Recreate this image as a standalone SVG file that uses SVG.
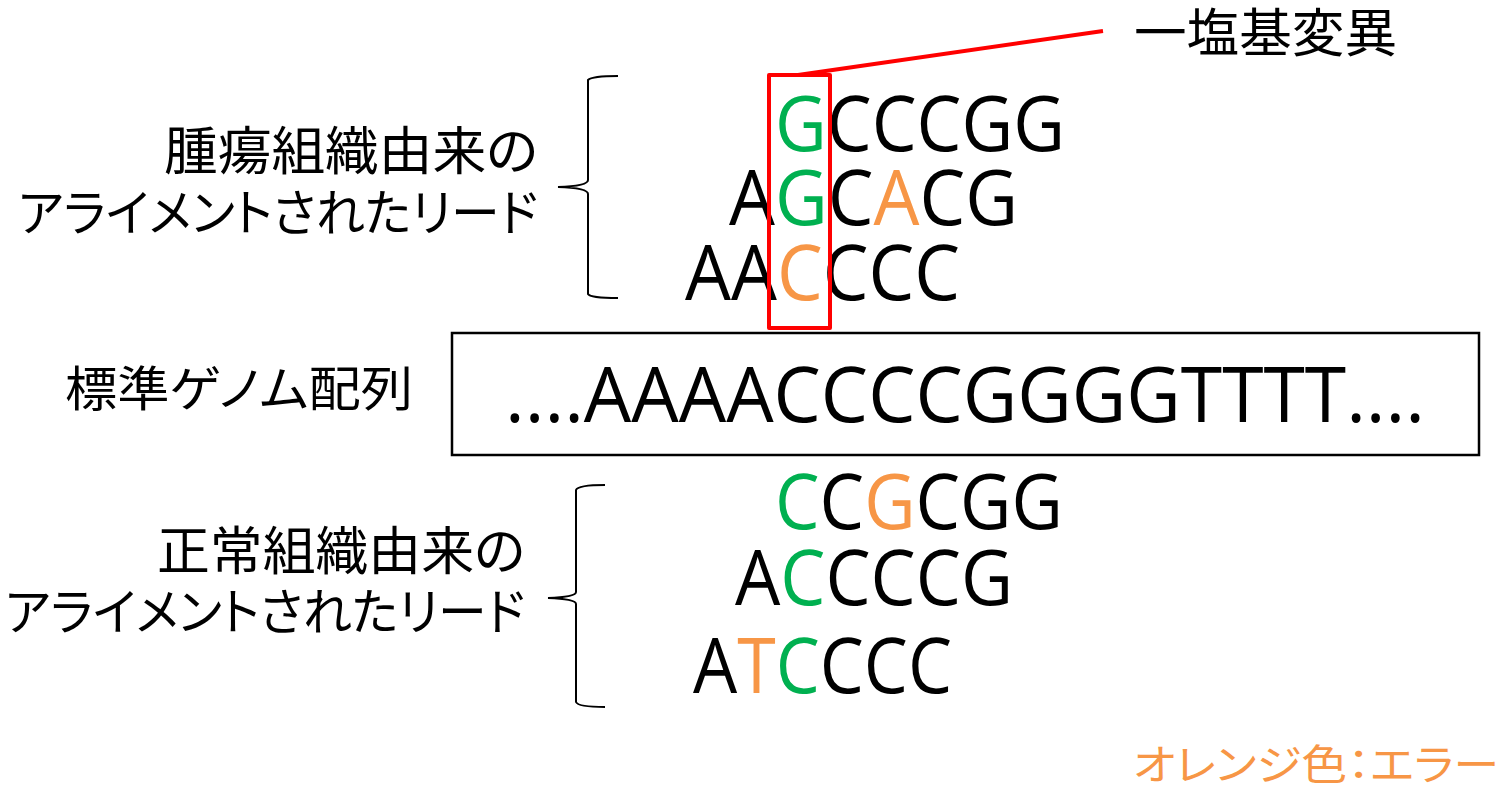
<svg xmlns="http://www.w3.org/2000/svg" width="1507" height="789" viewBox="0 0 1507 789">
  <style>
    .jp { font-family: "Noto Sans CJK JP", "Noto Sans", sans-serif; fill: #000; font-feature-settings: "palt"; }
    .seq { font-family: "Open Sans", "Noto Sans", sans-serif; font-size: 76px; fill: #000; }
    .g { fill: #00B050; }
    .o { fill: #F79646; }
    .brace { fill: none; stroke: #000; stroke-width: 2; }
    .callout { fill: none; stroke: #FF0000; stroke-width: 4; stroke-linejoin: round; }
  </style>

  <rect width="1507" height="789" fill="#fff"/>

  <!-- tumor-derived reads -->
  <g id="tumor-label">
    <text class="jp" x="164" y="170" font-size="52" textLength="374" lengthAdjust="spacingAndGlyphs">腫瘍組織由来の</text>
    <text class="jp" x="18" y="231" font-size="50" textLength="520" lengthAdjust="spacingAndGlyphs">アライメントされたリード</text>
  </g>
  <g id="tumor-reads">
    <text class="seq" x="775" y="151" textLength="290" lengthAdjust="spacingAndGlyphs"><tspan class="g">G</tspan>CCCGG</text>
    <text class="seq" x="729" y="225" textLength="289" lengthAdjust="spacingAndGlyphs">A<tspan class="g">G</tspan>C<tspan class="o">A</tspan>CG</text>
    <text class="seq" x="685" y="300" textLength="275" lengthAdjust="spacingAndGlyphs">AA<tspan class="o">C</tspan>CCC</text>
  </g>

  <!-- reference genome -->
  <g id="reference-label">
    <text class="jp" x="65" y="406" font-size="48" textLength="348" lengthAdjust="spacingAndGlyphs">標準ゲノム配列</text>
  </g>
  <g id="reference">
    <rect x="452" y="333" width="1027" height="122" fill="#fff" stroke="#000" stroke-width="2.5"/>
    <text class="seq" x="505" y="422" textLength="920" lengthAdjust="spacingAndGlyphs">....AAAACCCCGGGGTTTT....</text>
  </g>

  <!-- normal-derived reads -->
  <g id="normal-label">
    <text class="jp" x="157" y="570" font-size="52" textLength="368" lengthAdjust="spacingAndGlyphs">正常組織由来の</text>
    <text class="jp" x="5" y="630" font-size="50" textLength="520" lengthAdjust="spacingAndGlyphs">アライメントされたリード</text>
  </g>
  <g id="normal-reads">
    <text class="seq" x="775" y="529" textLength="288" lengthAdjust="spacingAndGlyphs"><tspan class="g">C</tspan>C<tspan class="o">G</tspan>CGG</text>
    <text class="seq" x="735" y="605" textLength="278" lengthAdjust="spacingAndGlyphs">A<tspan class="g">C</tspan>CCCG</text>
    <text class="seq" x="693" y="693" textLength="259" lengthAdjust="spacingAndGlyphs">A<tspan class="o">T</tspan><tspan class="g">C</tspan>CCC</text>
  </g>

  <!-- mutation callout -->
  <g id="mutation-label">
    <text class="jp" x="1134" y="52" font-size="52" textLength="263" lengthAdjust="spacingAndGlyphs">一塩基変異</text>
  </g>
  <g id="legend">
    <text class="jp" x="1133" y="780" font-size="42" style="fill:#F79646" textLength="366" lengthAdjust="spacingAndGlyphs">オレンジ色：エラー</text>
  </g>

  <g id="connectors">
    <!-- braces grouping the reads -->
    <path class="brace" d="M618,76 Q592,76 588,80 L588,180 Q588,186 558,187 Q588,188 588,194 L588,294 Q590,298 618,298"/>
    <path class="brace" d="M605,485 Q578,485 576,490 L576,592 Q576,597 548,598 Q576,599 576,604 L576,702 Q578,707 605,707"/>
    <!-- highlight column and leader line -->
    <rect class="callout" x="769" y="75" width="61" height="253"/>
    <line class="callout" x1="798" y1="75" x2="1103" y2="31"/>
  </g>
</svg>
